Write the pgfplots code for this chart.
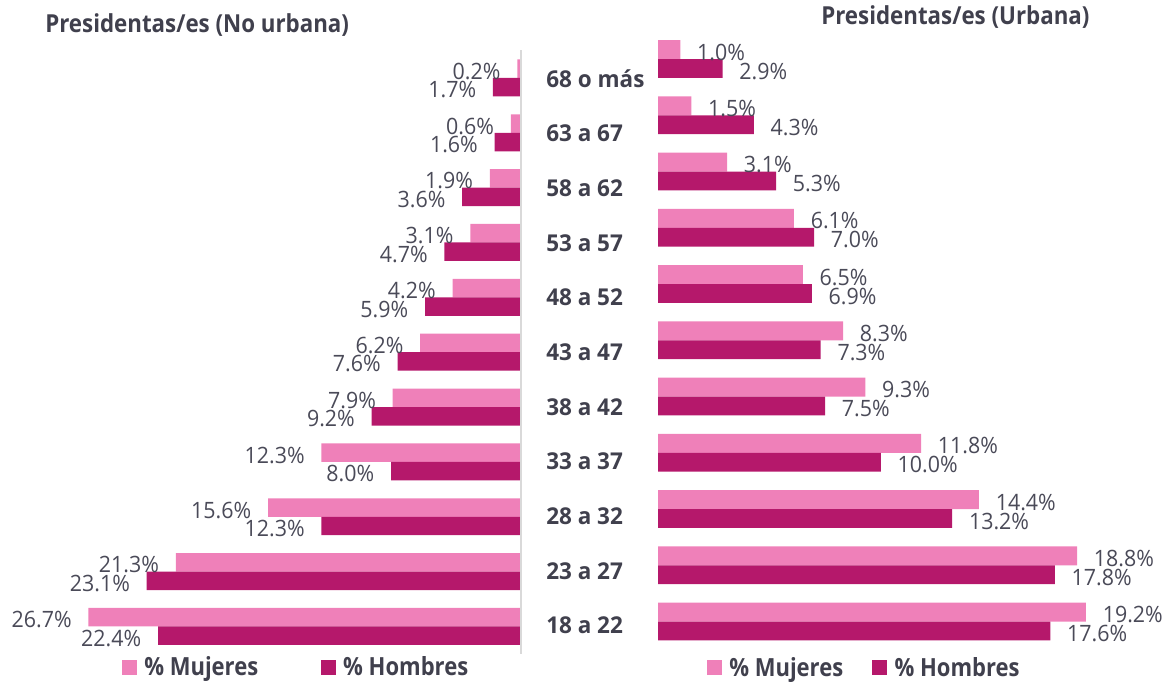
\documentclass[border=0pt]{standalone}
\usepackage{pgfplots}
\usepackage{pgfplotstable}
\pgfplotsset{compat=1.18}
\usepackage{fontspec}
\setmainfont{Open Sans}
\newfontfamily\titlefont[FakeStretch=0.9]{Open Sans}
\newfontfamily\legfont[FakeStretch=0.88]{Open Sans}
\newfontfamily\lblfont[FakeStretch=0.95]{Open Sans}
\newfontfamily\catfont[FakeStretch=0.97]{Open Sans}
\definecolor{muj}{HTML}{EF80B9}
\definecolor{hom}{HTML}{B5186B}
\definecolor{txt}{HTML}{40404D}
\definecolor{lbl}{HTML}{4A4A58}
\definecolor{axl}{HTML}{D9D9D9}

% categories: 0 = 18 a 22 ... 10 = 68 o mas
\pgfplotstableread{
cat muj hom
0 26.7 22.4
1 21.3 23.1
2 15.6 12.3
3 12.3 8.0
4 7.9 9.2
5 6.2 7.6
6 4.2 5.9
7 3.1 4.7
8 1.9 3.6
9 0.6 1.6
10 0.2 1.7
}\noUrbana

\pgfplotstableread{
cat muj hom
0 19.2 17.6
1 18.8 17.8
2 14.4 13.2
3 11.8 10.0
4 9.3 7.5
5 8.3 7.3
6 6.5 6.9
7 6.1 7.0
8 3.1 5.3
9 1.5 4.3
10 1.0 2.9
}\urbana

\pgfplotsset{
  common/.style={
    scale only axis, xbar, clip=false, bar width=0.337,
    ymin=-0.5, ymax=10.5, xmin=0,
    axis line style={draw=none}, xtick=\empty, ytick=\empty,
    /pgf/number format/assume math mode=true,
    nodes near coords={\pgfmathprintnumber[fixed,fixed zerofill,precision=1]{\pgfplotspointmeta}\%},
    every node near coord/.append style={font=\lblfont\fontsize{16.9}{19}\selectfont, text=lbl, inner sep=0pt, yshift=-1.9pt},
    legend image code/.code={\fill[##1] (0pt,-5.6pt) rectangle (11.25pt,5.6pt);},
    legend columns=2,
  },
}

\begin{document}
\begin{tikzpicture}[x=0.75pt,y=0.75pt]
\useasboundingbox (0,0) rectangle (1169,681);

% Left: No urbana
\begin{axis}[common,
  at={(2.025pt,472.875pt)}, anchor=north west,
  width=388.35pt, height=452.55pt,
  x dir=reverse, xmax=32,
  every node near coord/.append style={anchor=east, xshift=-12.4pt},
  legend style={draw=none, fill=none, inner sep=0pt, at={(0.2298,-0.0225)}, anchor=west,
    nodes={inner sep=0pt},
    font=\legfont\fontsize{18.75}{21}\selectfont\bfseries, text=txt,
    /tikz/every odd column/.append style={column sep=5.5pt},
    /tikz/every even column/.append style={column sep=47pt}},
]
\addplot[fill=muj, draw=none, bar shift=0.1685] table[x=muj, y=cat] {\noUrbana};
\addplot[fill=hom, draw=none, bar shift=-0.1685] table[x=hom, y=cat] {\noUrbana};
\legend{\% Mujeres, \% Hombres}
\draw[axl, line width=1.5pt] (axis cs:0,-0.5) -- (axis cs:0,10.5);
\end{axis}

% Right: Urbana
\begin{axis}[common,
  at={(493.5pt,487.575pt)}, anchor=north west,
  width=383.25pt, height=464.06pt,
  xmax=22.925,
  every node near coord/.append style={anchor=west, xshift=12.4pt},
  legend style={draw=none, fill=none, inner sep=0pt, at={(0.0953,-0.0295)}, anchor=west,
    nodes={inner sep=0pt},
    font=\legfont\fontsize{18.75}{21}\selectfont\bfseries, text=txt,
    /tikz/every odd column/.append style={column sep=5.5pt},
    /tikz/every even column/.append style={column sep=21.75pt}},
]
\addplot[fill=muj, draw=none, bar shift=0.1685] table[x=muj, y=cat] {\urbana};
\addplot[fill=hom, draw=none, bar shift=-0.1685] table[x=hom, y=cat] {\urbana};
\legend{\% Mujeres, \% Hombres}
\end{axis}

% Category labels
\begin{axis}[
  at={(409.5pt,471.975pt)}, anchor=north west, scale only axis,
  width=7.5pt, height=450.75pt,
  ymin=-0.5, ymax=10.5, xmin=0, xmax=1,
  axis line style={draw=none}, xtick=\empty,
  ytick={0,...,10}, major tick length=0pt,
  yticklabels={18 a 22,23 a 27,28 a 32,33 a 37,38 a 42,43 a 47,48 a 52,53 a 57,58 a 62,63 a 67,68 o más},
  yticklabel style={anchor=west, inner sep=0pt, font=\catfont\fontsize{17.4}{20}\selectfont\bfseries, text=txt},
]
\end{axis}

\node[anchor=base west, inner sep=0pt, font=\titlefont\fontsize{18.6}{21}\selectfont\bfseries, text=txt] at (45,648.3) {Presidentas/es (No urbana)};
\node[anchor=base west, inner sep=0pt, font=\titlefont\fontsize{18.6}{21}\selectfont\bfseries, text=txt] at (821,656) {Presidentas/es (Urbana)};
\end{tikzpicture}
\end{document}
